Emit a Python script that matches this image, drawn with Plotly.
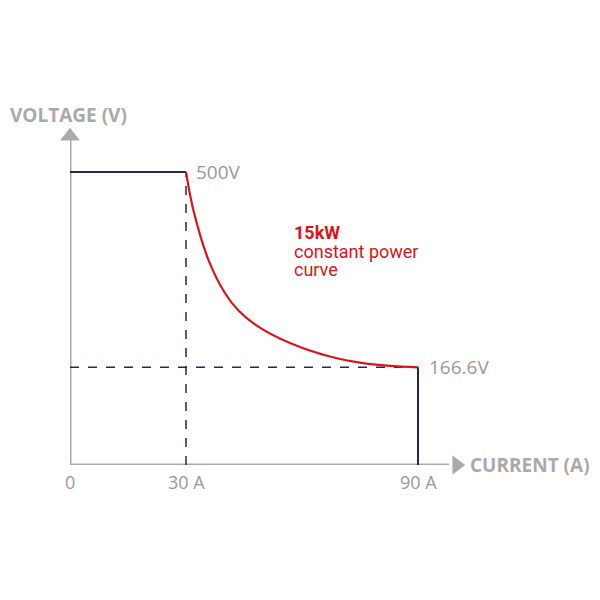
import plotly.graph_objects as go

# values
current_cc = [0, 30]            # constant voltage segment
voltage_cc = [500, 500]
curve_current = [30, 31.9, 35.8, 40.1, 43.5, 48.7, 56.9, 67.2, 76.7, 90]
curve_voltage = [500, 435, 350, 293, 264, 236, 208, 185, 173, 166.6]
end_current = [90, 90]
end_voltage = [166.6, 0]
tick_vals = [0, 30, 90]
tick_text = ["0", "30 A", "90 A"]
v_max, v_knee = 500, 166.6
i_knee, i_max = 30, 90

NAVY = "#1c2b5a"
RED = "#d9151b"
GRAY = "#aaaaaa"
LABEL = "#999999"

fig = go.Figure()

# axes with arrows
fig.add_trace(go.Scatter(x=[0, 0], y=[0, 555], mode="lines",
                         line=dict(color=GRAY, width=3), hoverinfo="skip"))
fig.add_trace(go.Scatter(x=[0, 98], y=[0, 0], mode="lines",
                         line=dict(color=GRAY, width=3), hoverinfo="skip"))
fig.add_trace(go.Scatter(x=[0], y=[561], mode="markers", cliponaxis=False,
                         marker=dict(symbol="triangle-up", size=17, color=GRAY),
                         hoverinfo="skip"))
fig.add_trace(go.Scatter(x=[100], y=[0], mode="markers", cliponaxis=False,
                         marker=dict(symbol="triangle-right", size=17, color=GRAY),
                         hoverinfo="skip"))

# dashed guides
fig.add_trace(go.Scatter(x=[i_knee, i_knee], y=[0, v_max], mode="lines",
                         line=dict(color=NAVY, width=1.5, dash="dash")))
fig.add_trace(go.Scatter(x=[0, i_max], y=[v_knee, v_knee], mode="lines",
                         line=dict(color=NAVY, width=1.5, dash="dash")))

# operating envelope
fig.add_trace(go.Scatter(x=current_cc, y=voltage_cc, mode="lines",
                         line=dict(color=NAVY, width=2)))
fig.add_trace(go.Scatter(x=end_current, y=end_voltage, mode="lines",
                         line=dict(color=NAVY, width=2)))
fig.add_trace(go.Scatter(x=curve_current, y=curve_voltage, mode="lines",
                         line=dict(color=RED, width=2.2, shape="spline")))

for v, t in zip(tick_vals, tick_text):
    fig.add_annotation(x=v, y=0, text=t, showarrow=False, yshift=-17,
                       font=dict(family="Open Sans", size=18, color=LABEL))

fig.add_annotation(x=i_knee, y=v_max, text="500V", showarrow=False, xanchor="left",
                   xshift=8, font=dict(family="Open Sans", size=19, color=LABEL))
fig.add_annotation(x=i_max, y=v_knee, text="166.6V", showarrow=False, xanchor="left",
                   xshift=9, font=dict(family="Open Sans", size=19, color=LABEL))
fig.add_annotation(x=-0.134, y=1.029, xref="paper", yref="paper",
                   text="<b>VOLTAGE (V)</b>", showarrow=False,
                   xanchor="left", yanchor="middle",
                   font=dict(family="Open Sans", size=19, color=GRAY))
fig.add_annotation(x=0.857, y=0, xref="paper", yref="paper",
                   text="<b>CURRENT (A)</b>", showarrow=False,
                   xanchor="left", yanchor="middle",
                   font=dict(family="Open Sans", size=19, color=GRAY))

red_lines = [("<b>15kW</b>", 0.685), ("constant power", 0.629), ("curve", 0.576)]
for t, yy in red_lines:
    fig.add_annotation(x=0.478, y=yy, xref="paper", yref="paper", text=t,
                       showarrow=False, xanchor="left", yanchor="middle",
                       font=dict(family="Roboto", size=18, color=RED))

fig.update_layout(
    width=600, height=600,
    margin=dict(l=62, r=74, t=117, b=143),
    plot_bgcolor="white", paper_bgcolor="white",
    showlegend=False,
    xaxis=dict(range=[0, 120], visible=False),
    yaxis=dict(range=[0, 580], visible=False),
)

fig.write_html("out.html")
